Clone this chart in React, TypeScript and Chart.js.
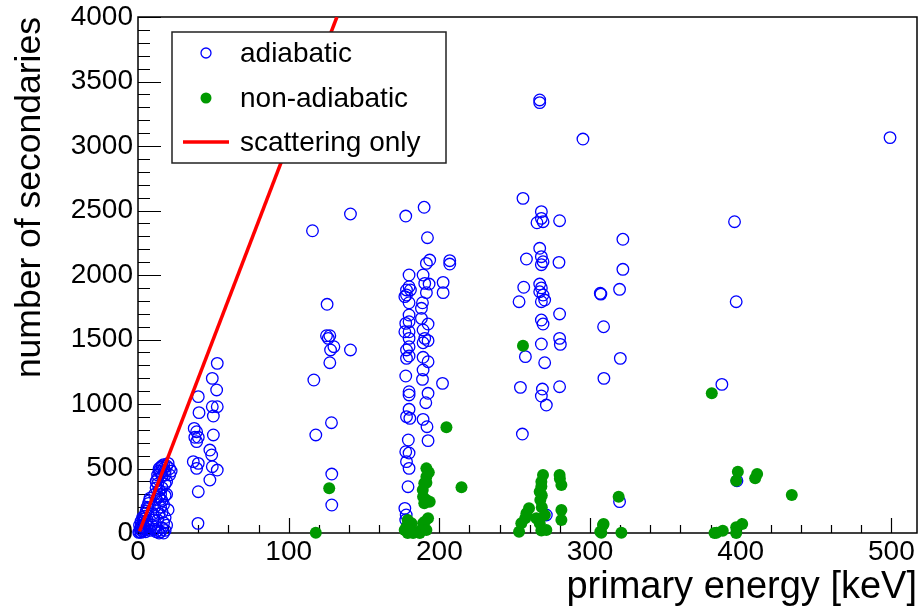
import React, { useEffect, useRef } from 'react';
import { Chart, registerables } from 'chart.js';

Chart.register(...registerables);

// ---- data: [primary energy keV, number of secondaries] ----
const adiabaticLow: [number, number][] = [
  [0.5, 5], [1, 10], [1, 60], [1.5, 30], [2, 5], [2, 50], [2, 90], [2.5, 20], [3, 15], [3, 80], [3, 120], [3.5, 60],
  [4, 40], [4, 110], [4.5, 130], [5, 10], [5, 70], [5, 150], [5.5, 170], [6, 30], [6, 100], [6, 200], [6.5, 190],
  [7, 50], [7, 230], [7.5, 250], [8, 20], [8, 270], [9, 60], [10, 100], [10, 150], [11, 30], [11, 200], [11, 300],
  [12, 10], [12, 50], [12, 260], [12, 350], [12, 400], [13, 20], [13, 100], [13, 380], [13, 420], [13, 450],
  [14, 0], [14, 150], [14, 280], [14, 330], [14, 480], [14, 500], [15, 10], [15, 200], [15, 260], [15, 300],
  [15, 470], [15, 510], [16, 40], [16, 160], [16, 250], [16, 350], [16, 440], [16, 520], [17, 0], [17, 80],
  [17, 220], [17, 500], [17, 530], [18, 20], [18, 120], [18, 290], [18, 380], [18, 450], [18, 480], [19, 60],
  [19, 300], [19, 400], [19, 520], [20, 180], [21, 450], [22, 480], [20, 540], [21, 500],
];
const adiabatic40: [number, number][] = [
  [52.6, 1315], [49.3, 1199], [52.2, 1109], [40.0, 1057], [49.3, 979], [52.6, 979], [50, 907], [40.5, 933],
  [37.3, 811], [38.9, 785], [37.7, 742], [40, 742], [38.9, 708], [50, 760], [47.7, 643], [48.9, 605],
  [36.7, 553], [40, 540], [38.9, 501], [49.3, 514], [52.6, 488], [47.7, 411], [40, 320], [39.8, 75],
];
const adiabatic125: [number, number][] = [
  [141, 2473], [115.8, 2343], [125.5, 1773], [125.1, 1529], [127.3, 1529], [126.3, 1509], [130, 1444],
  [127.8, 1419], [141, 1419], [127.3, 1320], [116.7, 1186], [128.4, 855], [118, 760], [128.6, 457], [128.6, 217],
];
const adiabatic185: [number, number][] = [
  [177.7, 2457], [189.9, 2525], [192.1, 2289], [193.6, 2116], [191.4, 2090], [206.9, 2111], [206.9, 2085],
  [179.9, 2000], [189.2, 2000], [179.9, 1909], [178.2, 1884], [180.8, 1884], [178.2, 1845], [190.3, 1935],
  [193.2, 1930], [202.5, 1943], [202.5, 1863], [191.4, 1863], [177.1, 1832], [179.9, 1785], [188.8, 1785],
  [188.1, 1742], [179.9, 1690], [179.9, 1638], [188.1, 1664], [177.7, 1625], [192.5, 1620], [177.1, 1560],
  [179.9, 1560], [189.2, 1574], [190.3, 1509], [179.9, 1509], [192.5, 1491], [189.2, 1475], [179.9, 1444],
  [178.2, 1419], [179.9, 1372], [178.2, 1354], [189.2, 1362], [192.5, 1328], [189.2, 1264], [177.7, 1217],
  [188.8, 1191], [202.1, 1160], [179.9, 1095], [179.9, 1070], [192.5, 1083], [191, 1010], [179.9, 959],
  [178.2, 902], [180.4, 889], [189.2, 881], [191.8, 824], [179.4, 721], [192.5, 716], [177.7, 630],
  [179.9, 620], [178.2, 553], [179.9, 501], [179.2, 359], [177.1, 191], [178, 140], [177.7, 101],
];
const adiabatic265: [number, number][] = [
  [266.6, 3357], [266.6, 3336], [255.5, 2594], [267.7, 2491], [267.7, 2439], [264.8, 2405], [268.8, 2413],
  [279.8, 2421], [266.6, 2207], [257.8, 2124], [267.7, 2142], [268.8, 2103], [267.7, 2080], [279.4, 2098],
  [256, 1905], [266.6, 1930], [267.7, 1900], [266.6, 1870], [268.8, 1845], [269.9, 1806], [252.9, 1793],
  [267.7, 1793], [279.8, 1698], [267.7, 1651], [268.8, 1620], [267.7, 1465], [279.8, 1509], [280.3, 1462],
  [257.1, 1367], [269.9, 1320], [253.8, 1129], [268.4, 1116], [279.8, 1134], [267.7, 1062], [271, 992],
  [255.1, 767], [271, 140],
];
const adiabaticHigh: [number, number][] = [
  [295.3, 3054], [321.8, 2277], [321.8, 2044], [306.8, 1858], [307.2, 1852], [319.6, 1889], [309, 1599],
  [320.1, 1354], [309.2, 1199], [319.6, 243], [395.9, 2413], [397, 1793], [387.5, 1152], [397.5, 405],
  [499.1, 3065],
];

const nonAdiabatic185: [number, number][] = [
  [118, 2], [126.9, 346], [204.7, 819], [214.7, 354],
  [191.4, 501], [193, 470], [191.4, 436], [190, 385], [191.4, 390], [189, 333], [189.2, 281], [191.4, 256],
  [193.6, 243], [190, 230], [192.5, 114], [190.3, 88], [189.2, 75], [179, 101], [181.5, 75], [178.2, 49],
  [177, 23], [188, 23], [183.6, 10], [179, 0], [182.6, 0], [187, 0], [191.4, 23], [180, 23],
];
const nonAdiabatic265: [number, number][] = [
  [255.5, 1452], [268.8, 450], [279.8, 450], [267.7, 398], [281, 372], [280, 420], [267.7, 360], [266.6, 320],
  [268, 290], [267, 256], [268, 200], [281, 178], [259.5, 191], [257.8, 153], [257, 114], [254.4, 75],
  [252.9, 10], [264.4, 114], [270, 140], [266.6, 75], [267.7, 20], [271, 23], [281, 101],
];
const nonAdiabaticHigh: [number, number][] = [
  [308.6, 62], [306.8, 10], [309, 70], [307.5, 2], [320.8, 2], [319, 281],
  [380.8, 1083], [398.1, 475], [397, 405], [410.9, 457], [409.6, 424], [433.9, 295], [382.6, 0], [384, 2],
  [388.1, 18], [397, 44], [401, 70], [397, 0],
];

const scatteringOnly: [number, number][] = [[1, 12], [132, 4000]];

const xMin = 0;
const xMax = 517;
const yMin = 0;
const yMax = 4000;
const xMajorStep = 100;
const xMinorStep = 20;
const yMajorStep = 500;
const yMinorStep = 100;

const legendLabels = ['adiabatic', 'non-adiabatic', 'scattering only'];
const xTitle = 'primary energy [keV]';
const yTitle = 'number of secondaries';

const FONT = '"Liberation Sans", Arial, Helvetica, sans-serif';
const BLUE = '#0000ff';
const GREEN = '#009900';
const RED = '#ff0000';

const toPts = (arr: [number, number][][]) => arr.flat().map(([x, y]) => ({ x, y }));

const frameTicksPlugin = {
  id: 'frameTicks',
  beforeDatasetsDraw(chart: any) {
    const { ctx, chartArea } = chart;
    const { left, right, top, bottom } = chartArea;
    const xs = chart.scales.x;
    const ys = chart.scales.y;
    ctx.save();
    ctx.strokeStyle = '#000';
    ctx.lineWidth = 1.5;
    ctx.strokeRect(left, top, right - left, bottom - top);
    ctx.lineWidth = 1.2;
    ctx.beginPath();
    for (let v = xMin; v <= xMax; v += xMinorStep) {
      const px = Math.round(xs.getPixelForValue(v)) + 0.5;
      const len = v % xMajorStep === 0 ? 15 : 8;
      ctx.moveTo(px, bottom);
      ctx.lineTo(px, bottom - len);
    }
    for (let v = yMin; v <= yMax; v += yMinorStep) {
      const py = Math.round(ys.getPixelForValue(v)) + 0.5;
      const len = v % yMajorStep === 0 ? 23 : 12;
      ctx.moveTo(left, py);
      ctx.lineTo(left + len, py);
    }
    ctx.stroke();
    ctx.restore();
  },
};

const legendPlugin = {
  id: 'rootLegend',
  afterDatasetsDraw(chart: any) {
    const { ctx } = chart;
    const bx = 172, by = 32, bw = 274, bh = 131;
    ctx.save();
    ctx.fillStyle = '#fff';
    ctx.fillRect(bx, by, bw, bh);
    ctx.strokeStyle = '#222';
    ctx.lineWidth = 1.5;
    ctx.strokeRect(bx, by, bw, bh);
    const rows = [53, 98, 142];
    ctx.font = `28px ${FONT}`;
    ctx.fillStyle = '#000';
    ctx.textBaseline = 'middle';
    ctx.textAlign = 'left';
    legendLabels.forEach((t, i) => ctx.fillText(t, 240, rows[i] + 1));
    ctx.strokeStyle = BLUE;
    ctx.lineWidth = 1.3;
    ctx.beginPath();
    ctx.arc(206, rows[0], 5, 0, Math.PI * 2);
    ctx.stroke();
    ctx.fillStyle = GREEN;
    ctx.beginPath();
    ctx.arc(206, rows[1], 5.5, 0, Math.PI * 2);
    ctx.fill();
    ctx.strokeStyle = RED;
    ctx.lineWidth = 3.5;
    ctx.beginPath();
    ctx.moveTo(183, rows[2]);
    ctx.lineTo(229, rows[2]);
    ctx.stroke();
    ctx.restore();
  },
};

export default function App() {
  const ref = useRef<HTMLCanvasElement | null>(null);
  useEffect(() => {
    if (!ref.current) return;
    const chart = new Chart(ref.current, {
      type: 'scatter',
      data: {
        datasets: [
          {
            label: legendLabels[2],
            data: scatteringOnly.map(([x, y]) => ({ x, y })),
            showLine: true,
            borderColor: RED,
            borderWidth: 3.5,
            pointRadius: 0,
            order: 0,
          },
          {
            label: legendLabels[1],
            data: toPts([nonAdiabatic185, nonAdiabatic265, nonAdiabaticHigh]),
            backgroundColor: GREEN,
            borderColor: GREEN,
            borderWidth: 0,
            pointRadius: 6,
            clip: false,
            order: 1,
          },
          {
            label: legendLabels[0],
            data: toPts([adiabaticLow, adiabatic40, adiabatic125, adiabatic185, adiabatic265, adiabaticHigh]),
            backgroundColor: 'rgba(0,0,0,0)',
            borderColor: BLUE,
            borderWidth: 1.3,
            pointRadius: 5.8,
            clip: false,
            order: 2,
          },
        ] as any,
      },
      options: {
        animation: false,
        responsive: false,
        devicePixelRatio: 1,
        events: [],
        layout: { autoPadding: false, padding: { top: 17, right: 1, bottom: 0, left: 0 } },
        plugins: { legend: { display: false }, tooltip: { enabled: false } },
        scales: {
          x: {
            type: 'linear',
            position: 'bottom',
            min: xMin,
            max: xMax,
            grid: { display: false, drawTicks: false },
            border: { display: false },
            ticks: {
              stepSize: xMajorStep,
              includeBounds: false,
              padding: 2,
              color: '#000',
              font: { family: FONT, size: 28 },
              maxRotation: 0,
              callback: (v: any) => String(v),
            },
            title: {
              display: true,
              text: xTitle,
              align: 'end',
              color: '#000',
              font: { family: FONT, size: 38 },
              padding: { top: 0, bottom: 1 },
            },
            afterFit: (s: any) => {
              s.height = 78;
              s.paddingLeft = 0;
              s.paddingRight = 0;
            },
          },
          y: {
            type: 'linear',
            min: yMin,
            max: yMax,
            grid: { display: false, drawTicks: false },
            border: { display: false },
            ticks: {
              stepSize: yMajorStep,
              padding: 5,
              color: '#000',
              font: { family: FONT, size: 28 },
              callback: (v: any) => String(v),
            },
            title: {
              display: true,
              text: yTitle,
              align: 'end',
              color: '#000',
              font: { family: FONT, size: 35.5 },
              padding: { top: 9, bottom: 0 },
            },
            afterFit: (s: any) => {
              s.width = 138;
              s.paddingTop = 0;
              s.paddingBottom = 0;
            },
          },
        },
      } as any,
      plugins: [frameTicksPlugin, legendPlugin],
    });
    return () => chart.destroy();
  }, []);
  return (
    <div style={{ position: 'fixed', left: 0, top: 0, width: 918, height: 611, background: '#fff' }}>
      <canvas ref={ref} width={918} height={611} style={{ width: 918, height: 611, display: 'block' }} />
    </div>
  );
}
